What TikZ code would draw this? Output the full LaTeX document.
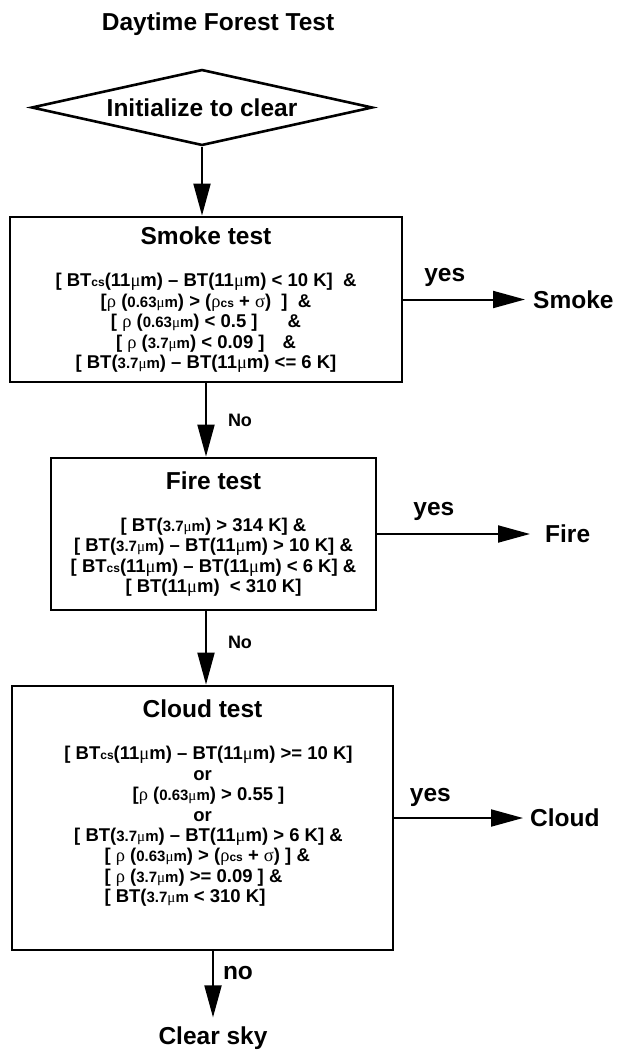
\documentclass[tikz,border=0pt]{standalone}
\usepackage{fontspec}
\setmainfont{Liberation Sans}
\newfontfamily\symfont{Liberation Serif}
\usetikzlibrary{shapes.geometric, arrows.meta, positioning}

\newcommand{\mum}{{\symfont\mdseries μ}m}
\newcommand{\wl}[1]{{\fontsize{15}{15}\selectfont #1\mum}}
\newcommand{\csub}{{\fontsize{12}{12}\selectfont cs}}
\newcommand{\rh}{{\symfont\mdseries ρ}}
\newcommand{\sg}{{\symfont\mdseries σ}}
\newcommand{\boxtitle}[1]{{\fontsize{24.5}{26}\selectfont #1}}

\begin{document}
\begin{tikzpicture}[x=1pt, y=-1pt,
  bigtext/.style={font=\fontsize{24.5}{26}\selectfont\bfseries, inner sep=0pt},
  nolabel/.style={font=\fontsize{18}{20}\selectfont\bfseries, inner sep=0pt},
  testbox/.style={draw, line width=2.8pt, align=center, inner sep=0pt,
    font=\fontsize{18.5}{20.4}\selectfont\bfseries},
  result/.style={bigtext, anchor=west, inner xsep=8pt},
  flow/.style={line width=2pt, -{Triangle[length=32pt, width=17pt]}}]
  \useasboundingbox (0,0) rectangle (616,1051);

  \node[bigtext] (title) at (218,24) {Daytime Forest Test};

  \node[draw, diamond, line width=2.6pt, aspect=4.5, inner sep=0pt,
    minimum width=341pt, minimum height=76pt, bigtext] (init) at (202,107.5) {Initialize to clear};

  \node[testbox, minimum width=392pt, minimum height=165pt] (smoke) at (206,299.5) {%
    \boxtitle{Smoke test}\\[22pt]
    {[} BT\csub(11\mum) – BT(11\mum) < 10 K]\ \ \&\\
    {[}\rh\ (\wl{0.63}) > (\rh\csub\ + \sg)\ \ ]\ \ \&\\
    {[} \rh\ (\wl{0.63}) < 0.5 ]\hspace{30pt}\&\\
    {[} \rh\ (\wl{3.7}) < 0.09 ]\hspace{18pt}\&\\
    {[} BT(\wl{3.7}) – BT(11\mum) <= 6 K]};

  \node[testbox, minimum width=325pt, minimum height=152pt] (fire) at (213.5,534) {%
    \boxtitle{Fire test}\\[22pt]
    {[} BT(\wl{3.7}) > 314 K] \&\\
    {[} BT(\wl{3.7}) – BT(11\mum) > 10 K] \&\\
    {[} BT\csub(11\mum) – BT(11\mum) < 6 K] \&\\
    {[} BT(11\mum)\ \ < 310 K]};

  \node[testbox, minimum width=381pt, minimum height=264pt] (cloud) at (202.5,818) {%
    \boxtitle{Cloud test}\\[22pt]
    \hspace*{12pt}{[} BT\csub(11\mum) – BT(11\mum) >= 10 K]\\
    or\\
    \hspace*{12pt}{[}\rh\ (\wl{0.63}) > 0.55 ]\\
    or\\
    \hspace*{12pt}{[} BT(\wl{3.7}) – BT(11\mum) > 6 K] \&\\
    \hspace*{28pt}\makebox[224pt][l]{[ \rh\ (\wl{0.63}) > (\rh\csub\ + \sg) ] \&}\\
    \hspace*{28pt}\makebox[224pt][l]{[ \rh\ (\wl{3.7}) >= 0.09 ] \&}\\
    \hspace*{28pt}\makebox[224pt][l]{[ BT(\wl{3.7} < 310 K]}\\[13pt]\mbox{}};

  \node[result] (smokeres) at (525,299.5) {Smoke};
  \node[result, inner xsep=15pt] (fireres) at (530,534) {Fire};
  \node[result, inner xsep=7pt] (cloudres) at (523,818) {Cloud};
  \node[bigtext, inner ysep=9pt] (clear) at (213,1038) {Clear sky};

  \draw[flow] (init.south) -- (init.south |- smoke.north);
  \draw[flow] (smoke.south) -- (smoke.south |- fire.north)
    node[pos=0.5, right=21pt, nolabel] {No};
  \draw[flow] (smoke.south |- fire.south) -- (smoke.south |- cloud.north)
    node[pos=0.43, right=21pt, nolabel] {No};
  \draw[flow] (clear.north |- cloud.south) -- (clear.north)
    node[pos=0.32, right=9pt, bigtext] {no};

  \draw[flow] (smoke.east) -- (smokeres.west) node[pos=0.34, above=12pt, bigtext] {yes};
  \draw[flow] (fire.east) -- (fireres.west) node[pos=0.37, above=12pt, bigtext] {yes};
  \draw[flow] (cloud.east) -- (cloudres.west) node[pos=0.28, above=10pt, bigtext] {yes};
\end{tikzpicture}
\end{document}
